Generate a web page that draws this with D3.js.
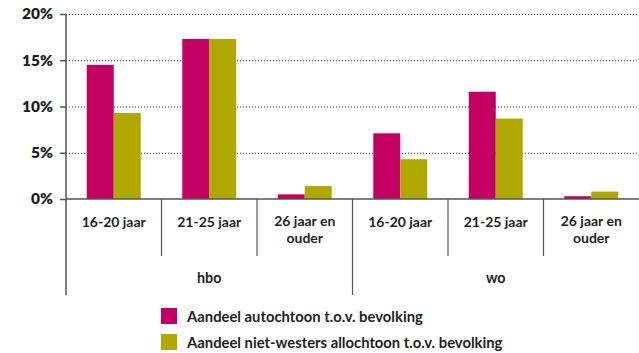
<!DOCTYPE html>
<html>
<head>
<meta charset="utf-8">
<script src="https://cdn.jsdelivr.net/npm/d3@7/dist/d3.min.js"></script>
<style>
  html, body { margin: 0; padding: 0; background: #fff; }
  svg { display: block; }
  text { font-family: Lato, "Open Sans", sans-serif; fill: #1e1e1e; }
</style>
</head>
<body>
<svg id="chart" width="639" height="353"></svg>
<script>
// Education level groups and age classes
const groups = ["hbo", "wo"];
const ageLabels = [["16-20 jaar"], ["21-25 jaar"], ["26 jaar en", "ouder"]];

// Share (%) per category, in order hbo 16-20, 21-25, 26+, wo 16-20, 21-25, 26+
const autochtoon = [14.5, 17.3, 0.5, 7.1, 11.6, 0.3];
const nietWesters = [9.3, 17.3, 1.4, 4.3, 8.7, 0.8];

const seriesNames = [
  "Aandeel autochtoon t.o.v. bevolking",
  "Aandeel niet-westers allochtoon t.o.v. bevolking"
];
const seriesColors = ["#c30062", "#aea800"];
const yTicks = [0, 5, 10, 15, 20];

const svg = d3.select("#chart");
const plotL = 66, plotR = 639, plotT = 14, base = 199;

const cats = [];
groups.forEach((g, gi) => ageLabels.forEach((a, ai) => cats.push({ key: g + ai, group: g, label: a, i: gi * 3 + ai })));

const x0 = d3.scaleBand().domain(cats.map(c => c.key)).range([plotL, plotR]).paddingInner(0).paddingOuter(0);
const x1 = d3.scaleBand().domain([0, 1]).range([0, x0.bandwidth()]).paddingInner(0).paddingOuter(0.77);
const y = d3.scaleLinear().domain([0, 20]).range([base, plotT]);

// Dotted gridlines
svg.append("g").selectAll("line").data(yTicks.filter(t => t > 0)).join("line")
  .attr("x1", plotL).attr("x2", plotR)
  .attr("y1", d => y(d) + 0.5).attr("y2", d => y(d) + 0.5)
  .attr("stroke", "#333").attr("stroke-width", 1).attr("stroke-dasharray", "1,2");

// Bars
const data = cats.map(c => ({ key: c.key, vals: [autochtoon[c.i], nietWesters[c.i]] }));
const barG = svg.append("g").selectAll("g").data(data).join("g")
  .attr("transform", d => `translate(${x0(d.key)},0)`);
barG.selectAll("rect").data(d => d.vals.map((v, s) => ({ v, s }))).join("rect")
  .attr("x", d => x1(d.s)).attr("width", x1.bandwidth())
  .attr("y", d => y(d.v)).attr("height", d => base - y(d.v))
  .attr("fill", d => seriesColors[d.s]);

// Y axis
const yAxis = d3.axisLeft(y).tickValues(yTicks).tickFormat(d => d + "%").tickSize(6).tickPadding(7);
const ya = svg.append("g").attr("transform", `translate(${plotL},0)`).call(yAxis);
ya.select(".domain").remove();
ya.selectAll(".tick line").attr("stroke", "#555").attr("stroke-width", 1.5);
ya.selectAll(".tick text").style("font-size", "15.5px").style("font-weight", "800")
  .style("font-family", "Lato, sans-serif").attr("fill", "#1e1e1e");

// Baseline and vertical axis line
svg.append("line").attr("x1", plotL).attr("x2", plotR).attr("y1", base).attr("y2", base)
  .attr("stroke", "#555").attr("stroke-width", 1.5);
svg.append("line").attr("x1", plotL).attr("x2", plotL).attr("y1", plotT).attr("y2", 295)
  .attr("stroke", "#555").attr("stroke-width", 1.5);

// Category separators: short between ages, long between groups
const bounds = cats.slice(1).map(c => ({ x: x0(c.key), long: c.i % 3 === 0 }));
svg.append("g").selectAll("line").data(bounds).join("line")
  .attr("x1", d => d.x).attr("x2", d => d.x)
  .attr("y1", base).attr("y2", d => d.long ? 295 : 256)
  .attr("stroke", "#555").attr("stroke-width", 1.2);

// Age labels (second line for wrapped labels)
const lab = svg.append("g").selectAll("text").data(cats).join("text")
  .attr("text-anchor", "middle")
  .attr("x", d => x0(d.key) + x0.bandwidth() / 2)
  .attr("y", d => d.label.length > 1 ? 226 : 227)
  .style("font-size", "14px").style("font-weight", "700");
lab.selectAll("tspan").data(d => d.label.map((t, k) => ({ t, k, cx: x0(d.key) + x0.bandwidth() / 2 }))).join("tspan")
  .attr("x", d => d.cx).attr("dy", d => d.k === 0 ? 0 : 16.5).text(d => d.t);

// Group labels
svg.append("g").selectAll("text").data(groups).join("text")
  .attr("text-anchor", "middle")
  .attr("x", (g, gi) => {
    const a = x0(cats[gi * 3].key), b = x0(cats[gi * 3 + 2].key) + x0.bandwidth();
    return (a + b) / 2;
  })
  .attr("y", 283)
  .style("font-size", "14.3px").style("font-weight", "700")
  .text(d => d);

// Legend
const leg = svg.append("g").selectAll("g").data(seriesNames).join("g")
  .attr("transform", (d, i) => `translate(161,${308 + i * 26})`);
leg.append("rect").attr("width", 16).attr("height", 16).attr("fill", (d, i) => seriesColors[i]);
leg.append("text").attr("x", 26).attr("y", 13.5).style("font-size", "14.8px").style("font-weight", "700").text(d => d);
</script>
</body>
</html>
